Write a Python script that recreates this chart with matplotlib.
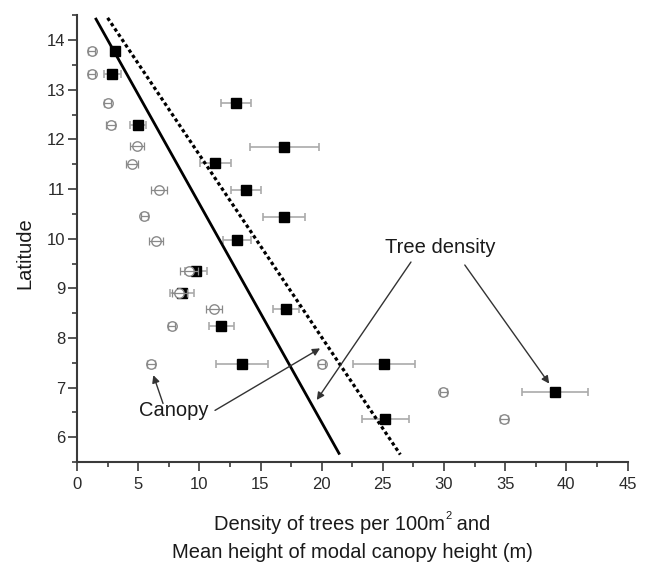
import matplotlib
matplotlib.use('Agg')
import matplotlib.pyplot as plt
import numpy as np
from matplotlib.ticker import MultipleLocator

plt.rcParams['font.family'] = ['Liberation Sans', 'DejaVu Sans']

# ---- data: tree density (filled squares) ----
density_lat = [13.78, 13.31, 12.74, 12.29, 11.85, 11.53, 10.99, 10.44, 9.97,
               9.34, 8.90, 8.59, 8.25, 7.48, 7.48, 6.91, 6.36]
density_val = [3.1, 2.9, 13.0, 5.0, 16.95, 11.3, 13.8, 16.9, 13.1,
               9.73, 8.6, 17.1, 11.8, 13.5, 25.1, 39.1, 25.2]
density_err = [0.3, 0.7, 1.2, 0.65, 2.8, 1.25, 1.25, 1.7, 1.15,
               0.9, 1.0, 1.05, 1.0, 2.15, 2.5, 2.7, 1.9]

# ---- data: mean modal canopy height (open circles) ----
canopy_lat = [13.78, 13.31, 12.74, 12.29, 11.86, 11.50, 10.99, 10.46, 9.95,
              9.34, 8.90, 8.59, 8.24, 7.48, 7.48, 6.91, 6.36]
canopy_val = [1.2, 1.2, 2.5, 2.75, 4.9, 4.5, 6.7, 5.5, 6.46,
              9.16, 8.37, 11.2, 7.73, 6.05, 20.0, 29.95, 34.9]
canopy_err = [0.3, 0.3, 0.3, 0.35, 0.6, 0.5, 0.65, 0.3, 0.6,
              0.75, 0.6, 0.65, 0.3, 0.3, 0.3, 0.3, 0.3]

# ---- regression lines: latitude = intercept + slope * value ----
canopy_fit = (15.11, -0.4406)
density_fit = (15.37, -0.3678)
fit_lat_range = [14.45, 5.65]

x_ticks = [0, 5, 10, 15, 20, 25, 30, 35, 40, 45]
y_ticks = [6, 7, 8, 9, 10, 11, 12, 13, 14]

W, H = 647, 564
fig = plt.figure(figsize=(W / 100, H / 100), dpi=100)
ax = fig.add_axes([77 / W, (H - 462) / H, 550.5 / W, 446.6 / H])

axis_col = '#3a3a3a'
txt_col = '#1a1a1a'

# squares with error bars
ax.errorbar(density_val, density_lat, xerr=density_err, fmt='s', color='black',
            ms=7, ecolor='#aaaaaa', elinewidth=1.2, capsize=3, capthick=1.2,
            zorder=2)
# circles
ax.plot(canopy_val, canopy_lat, 'o', ms=6.8, mfc='white', mec='#8a8a8a', mew=1.0,
        zorder=3, linestyle='none')
ax.errorbar(canopy_val, canopy_lat, xerr=canopy_err, fmt='none', ecolor='#8a8a8a',
            elinewidth=0.9, capsize=2.8, capthick=0.9, zorder=4)

lat_arr = np.array(fit_lat_range)
ax.plot((lat_arr - canopy_fit[0]) / canopy_fit[1], lat_arr, color='black', lw=2.0,
        zorder=5, solid_capstyle='butt')
ax.plot((lat_arr - density_fit[0]) / density_fit[1], lat_arr, color='black', lw=2.3,
        linestyle=(0, (1.1, 0.9)), zorder=5, dash_capstyle='butt')

ax.set_xlim(0, 45)
ax.set_ylim(5.5, 14.5)
ax.set_xticks(x_ticks)
ax.set_yticks(y_ticks)
ax.xaxis.set_minor_locator(MultipleLocator(2.5))
ax.yaxis.set_minor_locator(MultipleLocator(0.5))
for s in ['top', 'right']:
    ax.spines[s].set_visible(False)
for s in ['left', 'bottom']:
    ax.spines[s].set_linewidth(1.5)
    ax.spines[s].set_color(axis_col)
ax.tick_params(which='major', direction='out', length=6.5, width=1.2, color=axis_col,
               labelsize=12, labelcolor='#2a2a2a')
ax.tick_params(which='minor', direction='out', length=3.5, width=1.2, color=axis_col)
ax.tick_params(axis='x', pad=4)
ax.tick_params(axis='y', pad=2)

# axis labels
fig.text(24.5 / W, 1 - 253 / H, 'Latitude', rotation=90, ha='center', va='center',
         fontsize=14.5, color=txt_col)

# first x-label line with a small raised superscript, centred as a whole
fs = 14.5
y1 = 1 - 525 / H
cx = 352 / W
t_a = fig.text(0, y1, 'Density of trees per 100m', ha='left', va='center',
               fontsize=fs, color=txt_col)
t_s = fig.text(0, y1, '2', ha='left', va='center', fontsize=8, color=txt_col)
t_b = fig.text(0, y1, ' and', ha='left', va='center', fontsize=fs, color=txt_col)
fig.canvas.draw()
r = fig.canvas.get_renderer()
wa = t_a.get_window_extent(r).width / W
ws = t_s.get_window_extent(r).width / W
wb = t_b.get_window_extent(r).width / W
x0 = cx - (wa + ws + wb) / 2
t_a.set_x(x0)
t_s.set_x(x0 + wa + 0.5 / W)
t_s.set_y(y1 + 9 / H)
t_b.set_x(x0 + wa + ws)

fig.text(cx, 1 - 553 / H, 'Mean height of modal canopy height (m)', ha='center',
         va='center', fontsize=fs, color=txt_col)

# annotations
ax.text(25.2, 9.83, 'Tree density', ha='left', va='center', fontsize=fs,
        color=txt_col)
ax.text(7.93, 6.54, 'Canopy', ha='center', va='center', fontsize=fs,
        color=txt_col)
ap = dict(arrowstyle='-|>', color='#333333', lw=1.0, mutation_scale=11,
          shrinkA=0, shrinkB=0)
ax.annotate('', xy=(19.6, 6.75), xytext=(27.3, 9.53), arrowprops=ap, zorder=6)
ax.annotate('', xy=(38.6, 7.08), xytext=(31.7, 9.47), arrowprops=ap, zorder=6)
ax.annotate('', xy=(19.87, 7.79), xytext=(11.28, 6.54), arrowprops=ap, zorder=6)
ax.annotate('', xy=(6.24, 7.25), xytext=(7.03, 6.68), arrowprops=ap, zorder=6)

fig.savefig('out.png', dpi=100)
